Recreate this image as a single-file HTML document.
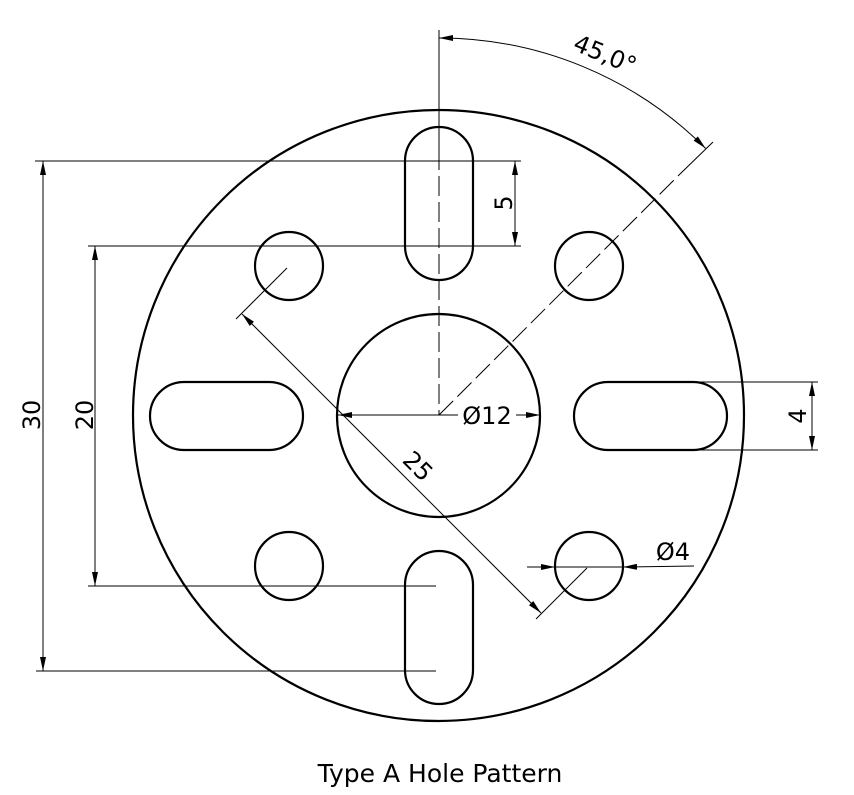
<!DOCTYPE html>
<html><head><meta charset="utf-8"><style>
html,body{margin:0;padding:0;background:#fff;}
svg{display:block;}
text{font-family:"DejaVu Sans","Liberation Sans",sans-serif;fill:#000;}
</style></head><body>
<svg width="854" height="795" viewBox="0 0 854 795" xmlns="http://www.w3.org/2000/svg">
<defs>
<marker id="a" viewBox="0 0 14 6" refX="14" refY="3" markerWidth="14" markerHeight="6" markerUnits="userSpaceOnUse" orient="auto-start-reverse">
<path d="M0,0 L14,3 L0,6 Z" fill="#000"/>
</marker>
</defs>
<g fill="none" stroke="#000" stroke-width="2.2">
<circle cx="438.5" cy="415.5" r="305.5"/>
<circle cx="438.5" cy="415.5" r="101.5"/>
<circle cx="289" cy="266" r="34"/>
<circle cx="589" cy="266" r="34"/>
<circle cx="289" cy="566" r="34"/>
<circle cx="589" cy="566" r="34"/>
<rect x="405" y="127" width="68" height="153" rx="34"/>
<rect x="405" y="551" width="68" height="153" rx="34"/>
<rect x="150" y="382" width="153" height="68" rx="34"/>
<rect x="574" y="382" width="153" height="68" rx="34"/>
</g>
<g fill="none" stroke="#000" stroke-width="1">
<line x1="439" y1="30" x2="439" y2="150"/>
<line x1="439" y1="150" x2="439" y2="415" stroke-dasharray="20,6"/>
<line x1="439" y1="415" x2="680" y2="174" stroke-dasharray="20,6"/>
<line x1="680" y1="174" x2="713" y2="142"/>
<path d="M439,38 A377,377 0 0 1 705.6,148.4" marker-start="url(#a)" marker-end="url(#a)"/>
<line x1="35" y1="161" x2="521" y2="161"/>
<line x1="88" y1="246" x2="521" y2="246"/>
<line x1="88" y1="586" x2="436" y2="586"/>
<line x1="36" y1="671" x2="436" y2="671"/>
<line x1="43" y1="161" x2="43" y2="671" marker-start="url(#a)" marker-end="url(#a)"/>
<line x1="95" y1="246" x2="95" y2="586" marker-start="url(#a)" marker-end="url(#a)"/>
<line x1="515" y1="161" x2="515" y2="246" marker-start="url(#a)" marker-end="url(#a)"/>
<line x1="690" y1="382" x2="818" y2="382"/>
<line x1="690" y1="450" x2="818" y2="450"/>
<line x1="812" y1="382" x2="812" y2="450" marker-start="url(#a)" marker-end="url(#a)"/>
<line x1="439" y1="415" x2="338" y2="415" marker-end="url(#a)"/>
<line x1="439" y1="415" x2="458" y2="415"/>
<line x1="516" y1="415" x2="540" y2="415" marker-end="url(#a)"/>
<line x1="287" y1="268" x2="236" y2="319"/>
<line x1="587" y1="568" x2="536" y2="619"/>
<line x1="242" y1="314" x2="541" y2="613" marker-start="url(#a)" marker-end="url(#a)"/>
<line x1="527" y1="567" x2="555" y2="567" marker-end="url(#a)"/>
<line x1="555" y1="567" x2="623" y2="567"/>
<line x1="694" y1="566" x2="623" y2="567" marker-end="url(#a)"/>
</g>
<g font-size="24">
<text x="487" y="424" text-anchor="middle">Ø12</text>
<text x="673" y="560" text-anchor="middle">Ø4</text>
<text transform="translate(412,472) rotate(45)" text-anchor="middle">25</text>
<text transform="translate(602,62) rotate(22.5)" text-anchor="middle">45,0°</text>
<text transform="translate(40,415) rotate(-90)" text-anchor="middle">30</text>
<text transform="translate(93,415) rotate(-90)" text-anchor="middle">20</text>
<text transform="translate(512,203) rotate(-90)" text-anchor="middle">5</text>
<text transform="translate(806,416) rotate(-90)" text-anchor="middle">4</text>
<text x="440" y="782" text-anchor="middle" font-size="25">Type A Hole Pattern</text>
</g>
</svg>
</body></html>
